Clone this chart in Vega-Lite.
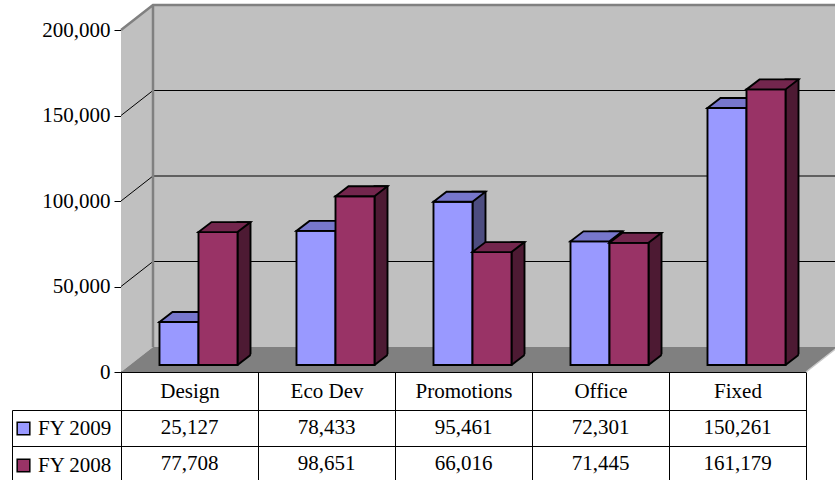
{
  "$schema": "https://vega.github.io/schema/vega-lite/v6.json",
  "width": 685,
  "height": 342,
  "autosize": "none",
  "padding": {"left": 121, "top": 30, "right": 29, "bottom": 108},
  "background": "white",
  "config": {
    "view": {"stroke": null},
    "font": "Liberation Serif",
    "axis": {
      "labelFont": "Liberation Serif",
      "labelFontSize": 21,
      "labelColor": "black",
      "domainColor": "black",
      "tickColor": "black",
      "domainWidth": 1,
      "tickWidth": 1,
      "zindex": 1
    }
  },
  "data": {
    "values": [
      {"cat": "Design", "series": "FY 2009", "value": 25127},
      {"cat": "Eco Dev", "series": "FY 2009", "value": 78433},
      {"cat": "Promotions", "series": "FY 2009", "value": 95461},
      {"cat": "Office", "series": "FY 2009", "value": 72301},
      {"cat": "Fixed", "series": "FY 2009", "value": 150261},
      {"cat": "Design", "series": "FY 2008", "value": 77708},
      {"cat": "Eco Dev", "series": "FY 2008", "value": 98651},
      {"cat": "Promotions", "series": "FY 2008", "value": 66016},
      {"cat": "Office", "series": "FY 2008", "value": 71445},
      {"cat": "Fixed", "series": "FY 2008", "value": 161179}
    ]
  },
  "resolve": {"scale": {"y": "independent"}},
  "layer": [
    {
      "resolve": {"scale": {"xOffset": "independent"}},
      "layer": [
        {
          "data": {"values": [{"part": "walls"}]},
          "mark": {"type": "point", "shape": "M0.32,-3.67L7.17,-3.67L7.17,-0.25L0.32,-0.25Z M0,0L0,-3.42L0.32,-3.67L0.32,-0.25Z", "size": 40000, "filled": true, "fill": "#C0C0C0", "strokeWidth": 0, "opacity": 1},
          "encoding": {"x": {"value": 0}, "y": {"datum": 0, "type": "quantitative", "scale": {"domain": [0, 200000], "nice": false}, "axis": {"values": [0, 50000, 100000, 150000, 200000], "format": ",.0f", "grid": false, "tickSize": 7, "labelPadding": 4, "title": null}}}
        },
        {
          "data": {"values": [{"part": "floor"}]},
          "mark": {"type": "point", "shape": "M0,0L0.32,-0.25L7.17,-0.25L6.85,0Z", "size": 40000, "filled": true, "fill": "#808080", "strokeWidth": 0, "opacity": 1},
          "encoding": {"x": {"value": 0}, "y": {"datum": 0, "type": "quantitative", "axis": {"values": [0, 50000, 100000, 150000, 200000], "format": ",.0f", "grid": false, "tickSize": 7, "labelPadding": 4, "title": null}}}
        },
        {
          "data": {"values": [{"v": 50000}, {"v": 100000}, {"v": 150000}]},
          "mark": {"type": "rule", "color": "black", "strokeWidth": 1, "yOffset": -25},
          "encoding": {"x": {"value": 32}, "x2": {"value": 717}, "y": {"field": "v", "type": "quantitative", "axis": {"values": [0, 50000, 100000, 150000, 200000], "format": ",.0f", "grid": false, "tickSize": 7, "labelPadding": 4, "title": null}}}
        },
        {
          "data": {"values": [{"v": 50000}, {"v": 100000}, {"v": 150000}]},
          "mark": {"type": "rule", "color": "black", "strokeWidth": 1, "y2Offset": -25},
          "encoding": {"x": {"value": 0}, "x2": {"value": 32}, "y": {"field": "v", "type": "quantitative", "axis": {"values": [0, 50000, 100000, 150000, 200000], "format": ",.0f", "grid": false, "tickSize": 7, "labelPadding": 4, "title": null}}, "y2": {"field": "v"}}
        },
        {
          "data": {"values": [{"part": "edges"}]},
          "mark": {"type": "point", "shape": "M0,-3.42L0.32,-3.67L7.17,-3.67M0.32,-3.67L0.32,-0.25", "size": 40000, "filled": false, "stroke": "#808080", "strokeWidth": 2.5, "opacity": 1},
          "encoding": {"x": {"value": 0}, "y": {"datum": 0, "type": "quantitative", "axis": {"values": [0, 50000, 100000, 150000, 200000], "format": ",.0f", "grid": false, "tickSize": 7, "labelPadding": 4, "title": null}}}
        },
        {
          "data": {"values": [{"part": "flooredge"}]},
          "mark": {"type": "point", "shape": "M6.85,0L7.17,-0.25", "size": 40000, "filled": false, "stroke": "#C8C8C8", "strokeWidth": 1.5, "opacity": 1},
          "encoding": {"x": {"value": 0}, "y": {"datum": 0, "type": "quantitative", "axis": {"values": [0, 50000, 100000, 150000, 200000], "format": ",.0f", "grid": false, "tickSize": 7, "labelPadding": 4, "title": null}}}
        },
        {
          "transform": [{"filter": "datum.series == 'FY 2009'"}],
          "mark": {"type": "bar", "width": 13, "yOffset": -17, "y2Offset": -7, "fill": "#4D4D80", "stroke": "black", "strokeWidth": 1.9},
          "encoding": {
            "x": {"field": "cat", "type": "nominal", "sort": ["Design", "Eco Dev", "Promotions", "Office", "Fixed"], "scale": {"type": "band", "domain": ["Design", "Eco Dev", "Promotions", "Office", "Fixed"], "paddingInner": 0, "paddingOuter": 0}, "axis": {"tickBand": "extent", "tickSize": 110, "labelPadding": -91, "labelBaseline": "middle", "labelAngle": 0, "title": null, "domain": true, "ticks": true, "grid": false}},
            "xOffset": {"field": "series", "type": "nominal", "scale": {"type": "band", "domain": ["FY 2009", "FY 2008"], "range": [35, 172], "paddingInner": 0, "paddingOuter": 0.756}},
            "y": {"field": "value", "type": "quantitative", "scale": {"domain": [0, 200000], "nice": false}, "axis": {"values": [0, 50000, 100000, 150000, 200000], "format": ",.0f", "grid": false, "tickSize": 7, "labelPadding": 4, "title": null}},
            "y2": {"datum": 0}
          }
        },
        {
          "transform": [{"filter": "datum.series == 'FY 2009'"}],
          "mark": {"type": "bar", "yOffset": -7, "y2Offset": -7, "stroke": "black", "strokeWidth": 1.9, "opacity": 1},
          "encoding": {
            "x": {"field": "cat", "type": "nominal"},
            "xOffset": {"field": "series", "type": "nominal", "scale": {"type": "band", "domain": ["FY 2009", "FY 2008"], "range": [9, 146], "paddingInner": 0, "paddingOuter": 0.756}},
            "y": {"field": "value", "type": "quantitative", "axis": {"values": [0, 50000, 100000, 150000, 200000], "format": ",.0f", "grid": false, "tickSize": 7, "labelPadding": 4, "title": null}},
            "y2": {"datum": 0},
            "color": {"field": "series", "type": "nominal", "scale": {"domain": ["FY 2009", "FY 2008"], "range": ["#9999FF", "#993366"]}, "legend": {"orient": "none", "legendX": -108, "legendY": 388, "title": null, "symbolType": "square", "symbolSize": 160, "symbolStrokeColor": "black", "symbolStrokeWidth": 1.5, "symbolOpacity": 1, "labelFont": "Liberation Serif", "labelFontSize": 21, "labelColor": "black", "labelOffset": 4, "rowPadding": 15, "padding": 0}}
          }
        },
        {
          "transform": [{"filter": "datum.series == 'FY 2009'"}],
          "mark": {"type": "point", "shape": "M-1.95,0L1.95,0L3.25,-1L-0.65,-1Z", "size": 400, "filled": true, "fill": "#7777CC", "stroke": "black", "strokeWidth": 1.9, "opacity": 1, "yOffset": -7},
          "encoding": {
            "x": {"field": "cat", "type": "nominal"},
            "xOffset": {"field": "series", "type": "nominal", "scale": {"type": "band", "domain": ["FY 2009", "FY 2008"], "range": [9, 146], "paddingInner": 0, "paddingOuter": 0.756}},
            "y": {"field": "value", "type": "quantitative", "axis": {"values": [0, 50000, 100000, 150000, 200000], "format": ",.0f", "grid": false, "tickSize": 7, "labelPadding": 4, "title": null}}
          }
        },
        {
          "transform": [{"filter": "datum.series == 'FY 2008'"}],
          "mark": {"type": "bar", "width": 13, "yOffset": -17, "y2Offset": -7, "fill": "#4D1A33", "stroke": "black", "strokeWidth": 1.9},
          "encoding": {
            "x": {"field": "cat", "type": "nominal"},
            "xOffset": {"field": "series", "type": "nominal", "scale": {"type": "band", "domain": ["FY 2009", "FY 2008"], "range": [35, 172], "paddingInner": 0, "paddingOuter": 0.756}},
            "y": {"field": "value", "type": "quantitative", "axis": {"values": [0, 50000, 100000, 150000, 200000], "format": ",.0f", "grid": false, "tickSize": 7, "labelPadding": 4, "title": null}},
            "y2": {"datum": 0}
          }
        },
        {
          "transform": [{"filter": "datum.series == 'FY 2008'"}],
          "mark": {"type": "point", "shape": "M0,0.15L1.5,0.15L1.5,-1.15L0,0Z", "size": 400, "filled": true, "fill": "#808080", "strokeWidth": 0, "opacity": 1, "yOffset": -7},
          "encoding": {
            "x": {"field": "cat", "type": "nominal"},
            "xOffset": {"field": "series", "type": "nominal", "scale": {"type": "band", "domain": ["FY 2009", "FY 2008"], "range": [28.5, 165.5], "paddingInner": 0, "paddingOuter": 0.756}},
            "y": {"datum": 0, "type": "quantitative", "axis": {"values": [0, 50000, 100000, 150000, 200000], "format": ",.0f", "grid": false, "tickSize": 7, "labelPadding": 4, "title": null}}
          }
        },
        {
          "transform": [{"filter": "datum.series == 'FY 2008'"}],
          "mark": {"type": "point", "shape": "M0,0L1.3,-1", "size": 400, "filled": false, "stroke": "black", "strokeWidth": 1.9, "opacity": 1, "yOffset": -7},
          "encoding": {
            "x": {"field": "cat", "type": "nominal"},
            "xOffset": {"field": "series", "type": "nominal", "scale": {"type": "band", "domain": ["FY 2009", "FY 2008"], "range": [28.5, 165.5], "paddingInner": 0, "paddingOuter": 0.756}},
            "y": {"datum": 0, "type": "quantitative", "axis": {"values": [0, 50000, 100000, 150000, 200000], "format": ",.0f", "grid": false, "tickSize": 7, "labelPadding": 4, "title": null}}
          }
        },
        {
          "transform": [{"filter": "datum.series == 'FY 2008'"}],
          "mark": {"type": "bar", "yOffset": -7, "y2Offset": -7, "stroke": "black", "strokeWidth": 1.9, "opacity": 1},
          "encoding": {
            "x": {"field": "cat", "type": "nominal"},
            "xOffset": {"field": "series", "type": "nominal", "scale": {"type": "band", "domain": ["FY 2009", "FY 2008"], "range": [9, 146], "paddingInner": 0, "paddingOuter": 0.756}},
            "y": {"field": "value", "type": "quantitative", "axis": {"values": [0, 50000, 100000, 150000, 200000], "format": ",.0f", "grid": false, "tickSize": 7, "labelPadding": 4, "title": null}},
            "y2": {"datum": 0},
            "color": {"field": "series", "type": "nominal", "legend": {"orient": "none", "legendX": -108, "legendY": 388, "title": null, "symbolType": "square", "symbolSize": 160, "symbolStrokeColor": "black", "symbolStrokeWidth": 1.5, "symbolOpacity": 1, "labelFont": "Liberation Serif", "labelFontSize": 21, "labelColor": "black", "labelOffset": 4, "rowPadding": 15, "padding": 0}}
          }
        },
        {
          "transform": [{"filter": "datum.series == 'FY 2008'"}],
          "mark": {"type": "point", "shape": "M-1.95,0L1.95,0L3.25,-1L-0.65,-1Z", "size": 400, "filled": true, "fill": "#73264D", "stroke": "black", "strokeWidth": 1.9, "opacity": 1, "yOffset": -7},
          "encoding": {
            "x": {"field": "cat", "type": "nominal"},
            "xOffset": {"field": "series", "type": "nominal", "scale": {"type": "band", "domain": ["FY 2009", "FY 2008"], "range": [9, 146], "paddingInner": 0, "paddingOuter": 0.756}},
            "y": {"field": "value", "type": "quantitative", "axis": {"values": [0, 50000, 100000, 150000, 200000], "format": ",.0f", "grid": false, "tickSize": 7, "labelPadding": 4, "title": null}}
          }
        }
      ]
    },
    {
      "mark": {"type": "text", "font": "Liberation Serif", "fontSize": 21, "color": "black", "baseline": "middle", "align": "center"},
      "encoding": {
        "x": {"field": "cat", "type": "nominal"},
        "y": {"field": "series", "type": "nominal", "scale": {"type": "band", "domain": ["FY 2009", "FY 2008"], "range": [380, 452], "paddingInner": 0, "paddingOuter": 0}, "axis": {"orient": "left", "offset": 109, "tickBand": "extent", "tickSize": -109, "labels": false, "grid": true, "gridColor": "black", "gridOpacity": 1, "gridWidth": 1, "domain": true, "title": null, "zindex": 1}},
        "text": {"field": "value", "type": "quantitative", "format": ","}
      }
    }
  ]
}
